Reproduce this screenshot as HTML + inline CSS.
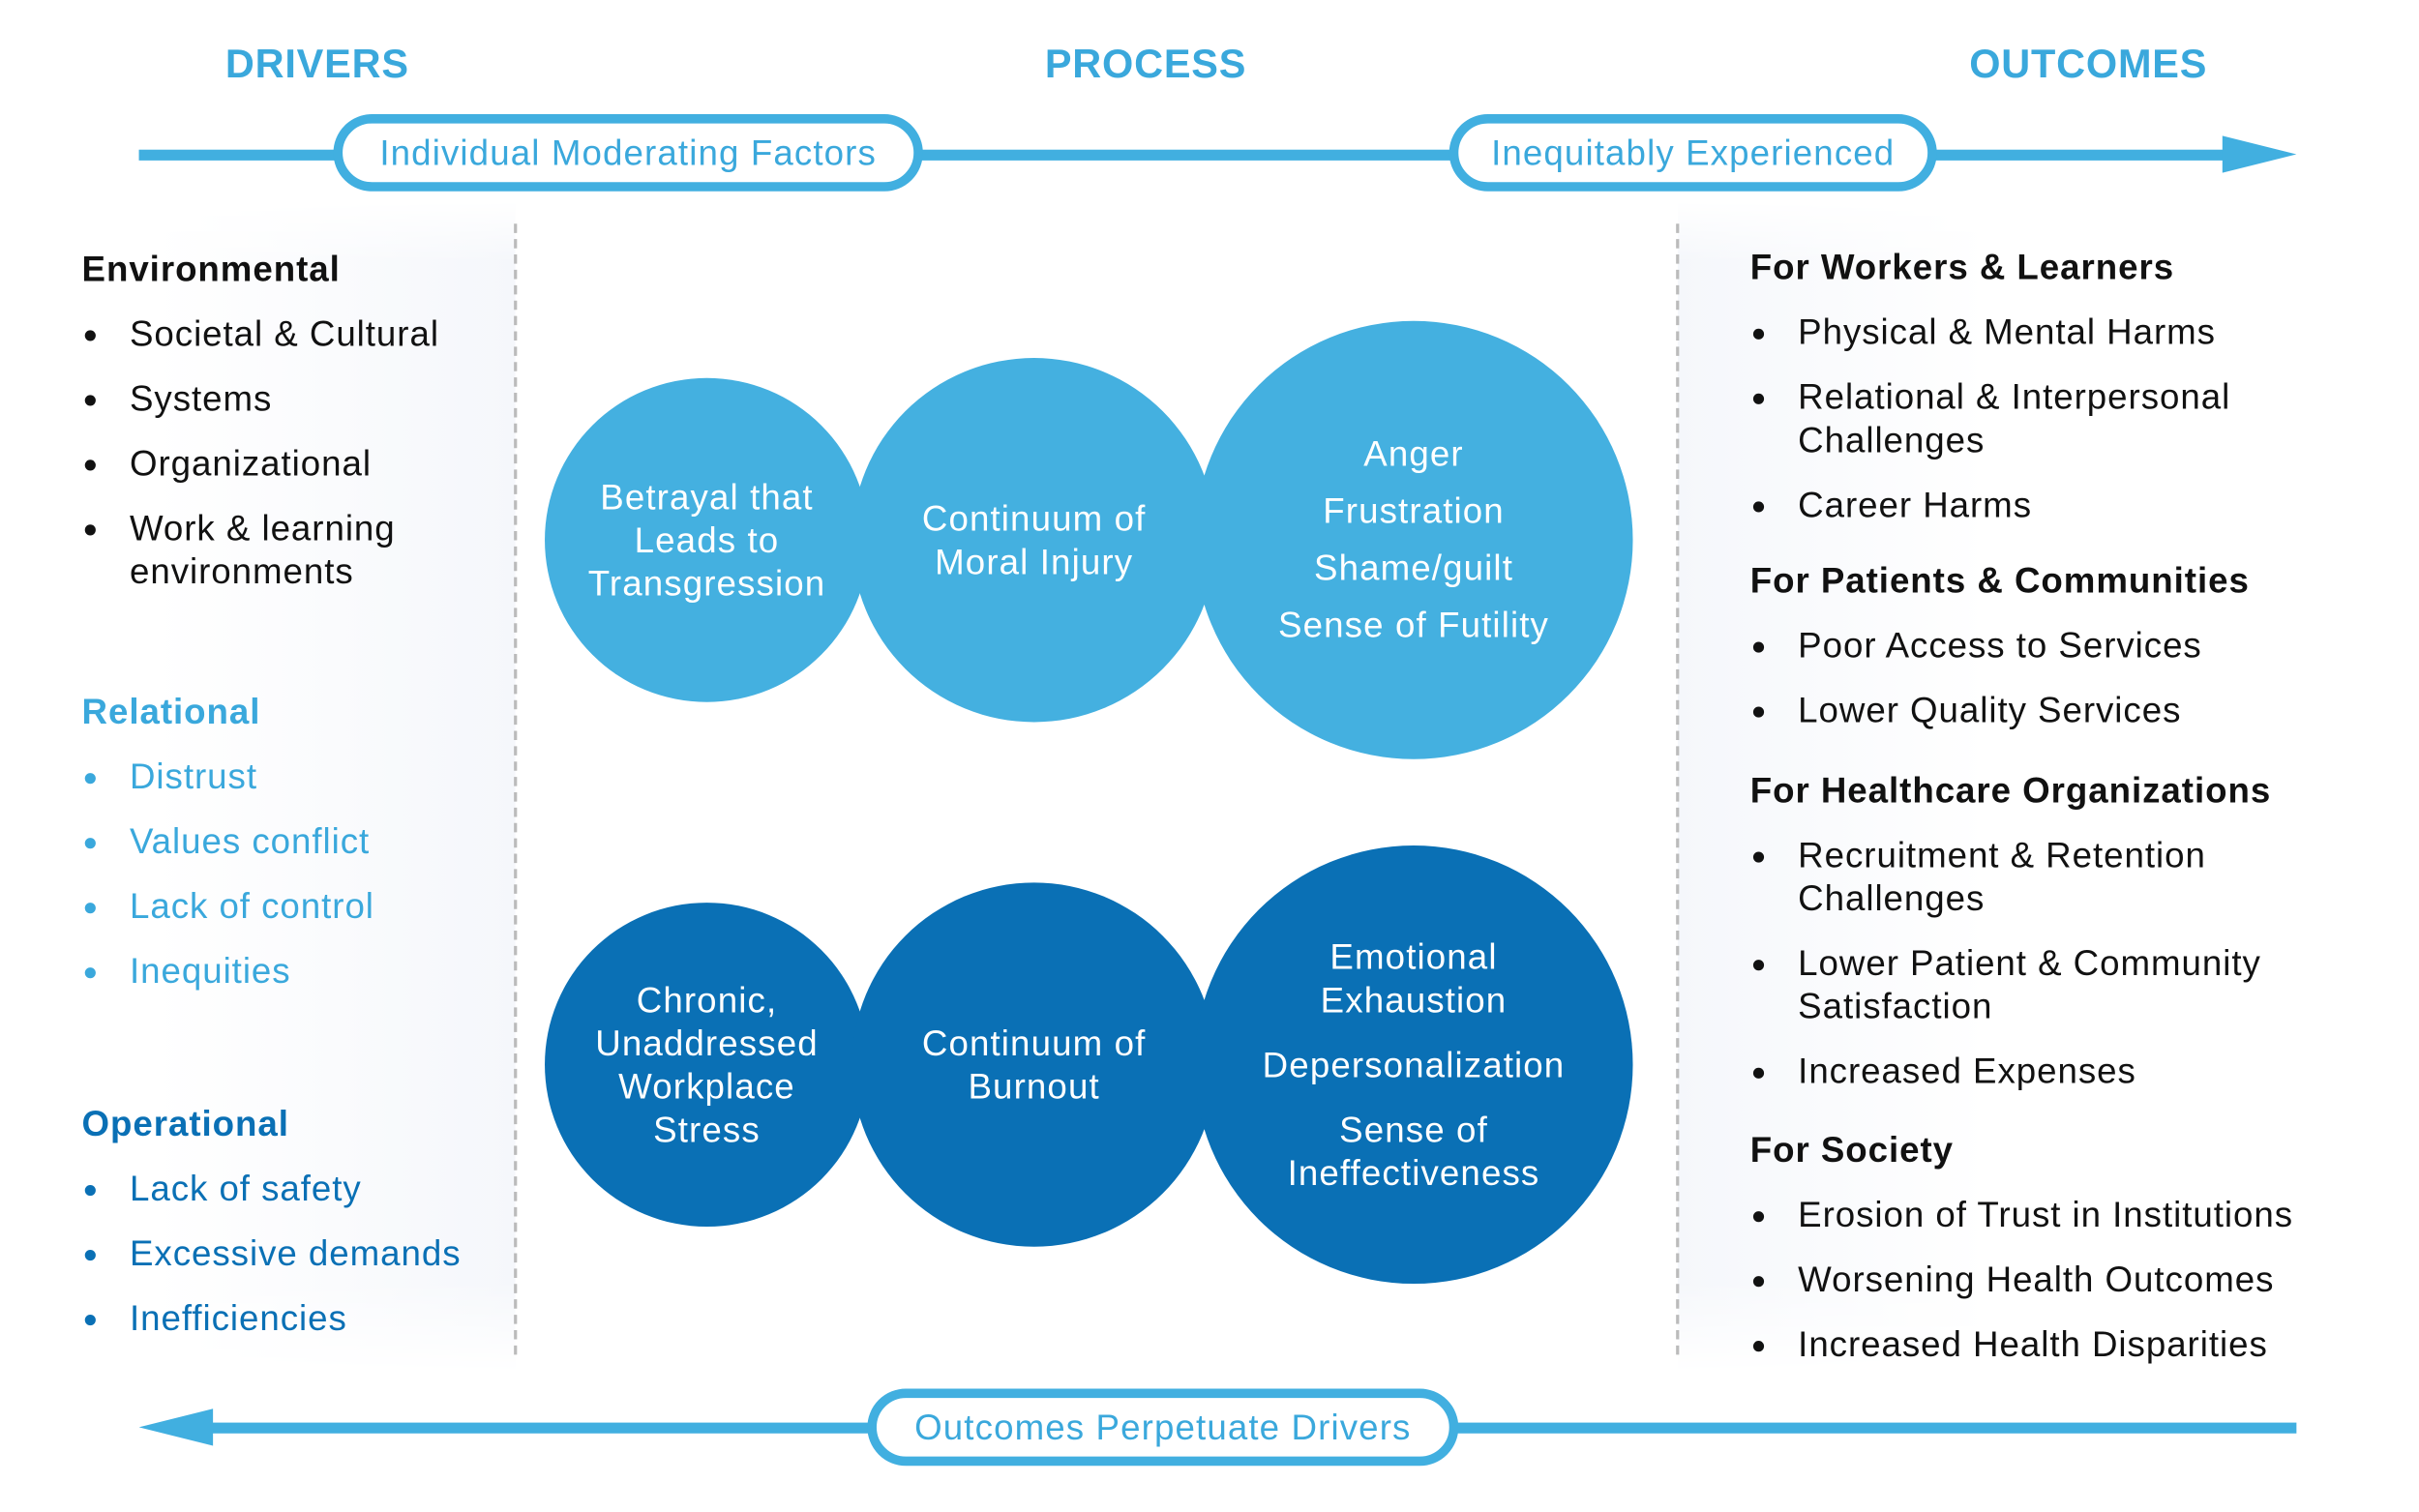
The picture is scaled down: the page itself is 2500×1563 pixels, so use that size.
<!DOCTYPE html>
<html><head><meta charset="utf-8"><style>
html,body{margin:0;padding:0;background:#fff;}
body{width:2500px;height:1562px;overflow:hidden;position:relative;}
#s{position:absolute;left:0;top:0;width:1568px;height:980px;transform:scale(1.595);transform-origin:0 0;font-family:"Liberation Sans",sans-serif;}
.a{position:absolute;}
.h{font-weight:bold;color:#3aa8dc;font-size:26px;letter-spacing:0.5px;}
.pill{position:absolute;border:6px solid #41afe0;border-radius:30px;background:#fff;color:#3aa8dc;font-size:23px;letter-spacing:0.7px;text-align:center;box-sizing:border-box;line-height:38px;white-space:nowrap;}
.c{position:absolute;border-radius:50%;display:flex;align-items:center;justify-content:center;text-align:center;color:#fff;font-size:23px;letter-spacing:0.7px;line-height:28px;}
.c>span{display:block;}
.t1{background:#44b0e0;}.t2{background:#0a70b5;}
.ls{position:absolute;font-size:23px;letter-spacing:0.6px;color:#111;white-space:nowrap;}
.ls b{display:block;font-size:23px;letter-spacing:0.6px;margin-bottom:14px;}
.ls div{position:relative;padding-left:31px;margin-bottom:14px;line-height:28px;}
.ls div:before{content:"";position:absolute;left:2px;top:12px;width:7px;height:7px;border-radius:50%;background:currentColor;}
</style></head><body><div id="s">
<div class="a" style="left:100px;top:130px;width:234px;height:760px;background:linear-gradient(90deg,#fff 0%,#f5f7fb 100%);-webkit-mask-image:linear-gradient(180deg,transparent 0,#000 40px,#000 700px,transparent 760px);mask-image:linear-gradient(180deg,transparent 0,#000 40px,#000 700px,transparent 760px)"></div>
<div class="a" style="left:1087px;top:130px;width:200px;height:760px;background:linear-gradient(90deg,#f5f7fb 0%,#fff 100%);-webkit-mask-image:linear-gradient(180deg,transparent 0,#000 40px,#000 700px,transparent 760px);mask-image:linear-gradient(180deg,transparent 0,#000 40px,#000 700px,transparent 760px)"></div>
<div class="a h" style="left:146px;top:26px">DRIVERS</div>
<div class="a h" style="left:677px;top:26px">PROCESS</div>
<div class="a h" style="left:1276px;top:26px">OUTCOMES</div>
<div class="a" style="left:90px;top:97px;width:1370px;height:7px;background:#41afe0"></div>
<div class="a" style="left:1440px;top:88px;width:0;height:0;border-top:12px solid transparent;border-bottom:12px solid transparent;border-left:48px solid #41afe0"></div>
<div class="pill" style="left:216px;top:74px;width:382px;height:50px">Individual Moderating Factors</div>
<div class="pill" style="left:939px;top:74px;width:316px;height:50px">Inequitably Experienced</div>
<div class="a" style="left:130px;top:922px;width:1358px;height:7px;background:#41afe0"></div>
<div class="a" style="left:90px;top:913px;width:0;height:0;border-top:12px solid transparent;border-bottom:12px solid transparent;border-right:48px solid #41afe0"></div>
<div class="pill" style="left:562px;top:900px;width:383px;height:50px">Outcomes Perpetuate Drivers</div>
<div class="a" style="left:333px;top:145px;height:733px;border-left:2px dashed #bbb"></div>
<div class="a" style="left:1086px;top:145px;height:733px;border-left:2px dashed #bbb"></div>

<div class="c t1" style="left:353px;top:245px;width:210px;height:210px"><span>Betrayal that<br>Leads to<br>Transgression</span></div>
<div class="c t1" style="left:552px;top:232px;width:236px;height:236px"><span>Continuum of<br>Moral Injury</span></div>
<div class="c t1" style="left:774px;top:208px;width:284px;height:284px;line-height:37px"><span>Anger<br>Frustration<br>Shame/guilt<br>Sense of Futility</span></div>
<div class="c t2" style="left:353px;top:585px;width:210px;height:210px"><span>Chronic,<br>Unaddressed<br>Workplace<br>Stress</span></div>
<div class="c t2" style="left:552px;top:572px;width:236px;height:236px"><span>Continuum of<br>Burnout</span></div>
<div class="c t2" style="left:774px;top:548px;width:284px;height:284px"><span>Emotional<br>Exhaustion<br><span style="display:block;margin:14px 0">Depersonalization</span>Sense of<br>Ineffectiveness</span></div>

<div class="ls" style="left:53px;top:161px"><b>Environmental</b><div>Societal &amp; Cultural</div><div>Systems</div><div>Organizational</div><div>Work &amp; learning<br>environments</div></div>
<div class="ls" style="left:53px;top:448px;color:#3aa8dc"><b>Relational</b><div>Distrust</div><div>Values conflict</div><div>Lack of control</div><div>Inequities</div></div>
<div class="ls" style="left:53px;top:715px;color:#0a70b5"><b>Operational</b><div>Lack of safety</div><div>Excessive demands</div><div>Inefficiencies</div></div>

<div class="ls" style="left:1134px;top:160px"><b>For Workers &amp; Learners</b><div>Physical &amp; Mental Harms</div><div>Relational &amp; Interpersonal<br>Challenges</div><div>Career Harms</div></div>
<div class="ls" style="left:1134px;top:363px"><b>For Patients &amp; Communities</b><div>Poor Access to Services</div><div>Lower Quality Services</div></div>
<div class="ls" style="left:1134px;top:499px"><b>For Healthcare Organizations</b><div>Recruitment &amp; Retention<br>Challenges</div><div>Lower Patient &amp; Community<br>Satisfaction</div><div>Increased Expenses</div></div>
<div class="ls" style="left:1134px;top:732px"><b>For Society</b><div>Erosion of Trust in Institutions</div><div>Worsening Health Outcomes</div><div>Increased Health Disparities</div></div>
</div></body></html>
